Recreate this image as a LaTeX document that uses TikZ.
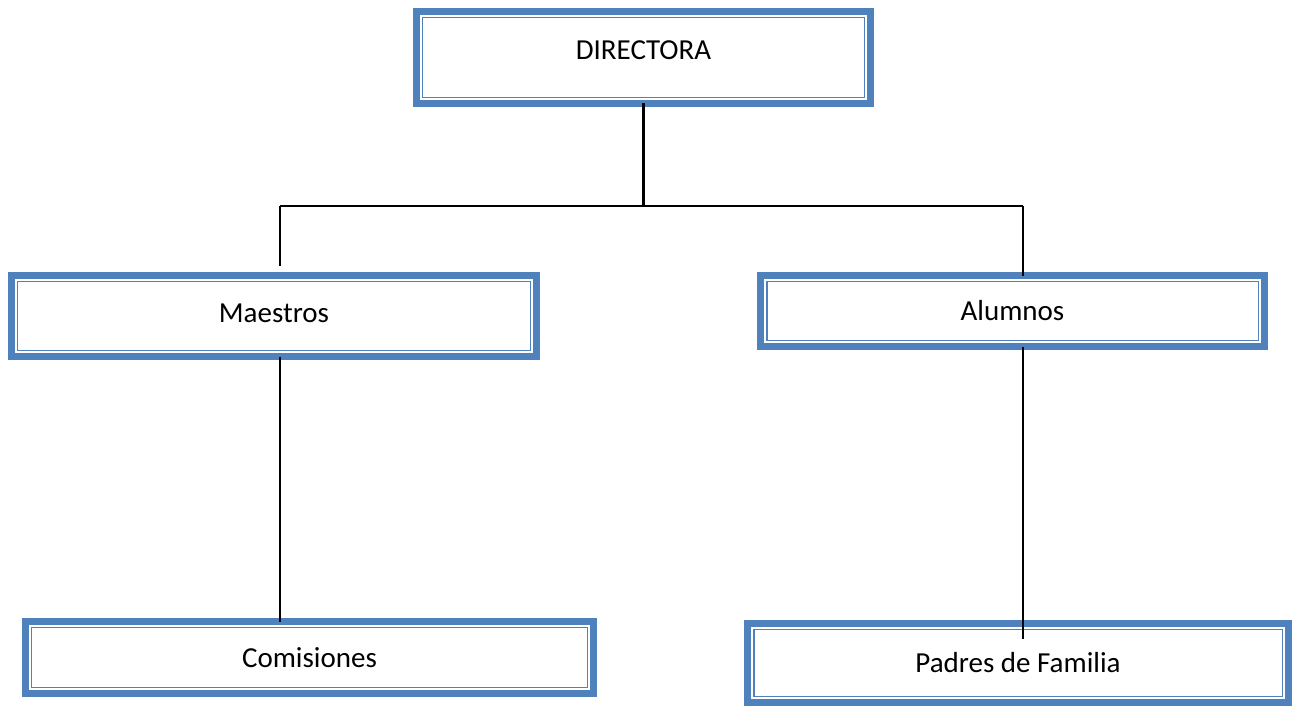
\documentclass[tikz,border=0pt]{standalone}
\usepackage[usenames,dvipsnames]{xcolor}
\usepackage{fontspec}
\setmainfont{Carlito}
\usepackage{tikz}
\definecolor{boxblue}{RGB}{79,129,189}

\begin{document}
\begin{tikzpicture}[x=0.02cm, y=-0.02cm, font=\fontsize{16.5}{20}\selectfont,
		orgbox/.style={rectangle, draw=boxblue, line width=4.4pt, outer sep=0pt,
			append after command={\pgfextra{\draw[boxblue, line width=0.7pt]
				([shift={(3.6pt,-3.6pt)}]\tikzlastnode.north west) rectangle ([shift={(-3.6pt,3.6pt)}]\tikzlastnode.south east);}}},
		link/.style={black, line width=1.2pt}]
		\useasboundingbox (0,0) rectangle (1301,707);
		\node[orgbox, minimum width=9.08cm, minimum height=1.84cm, text depth=8pt] (directora) at (643.5,57.5) {DIRECTORA};
		\node[orgbox, minimum width=10.5cm, minimum height=1.62cm, text depth=3pt] (maestros) at (274,316) {Maestros};
		\node[orgbox, minimum width=10.08cm, minimum height=1.42cm] (alumnos) at (1012.5,311) {Alumnos};
		\node[orgbox, minimum width=11.36cm, minimum height=1.44cm] (comisiones) at (309.5,657.5) {Comisiones};
		\node[orgbox, minimum width=10.82cm, minimum height=1.58cm] (padres) at (1018,663) {Padres de Familia};
		\coordinate (barleft) at (280,206);
		\coordinate (barright) at (1023,206);
		\draw[link] (directora.south) -- (directora.south |- barleft);
		\draw[link] (barleft) -- (barright);
		\draw[link, shorten >=5.4pt] (barleft) -- (barleft |- maestros.north);
		\draw[link] (barright) -- (barright |- alumnos.north);
		\draw[link] (barleft |- maestros.south) -- (barleft |- comisiones.north);
		\draw[link, shorten >=-9pt] (barright |- alumnos.south) -- (barright |- padres.north);
	\end{tikzpicture}
\end{document}
